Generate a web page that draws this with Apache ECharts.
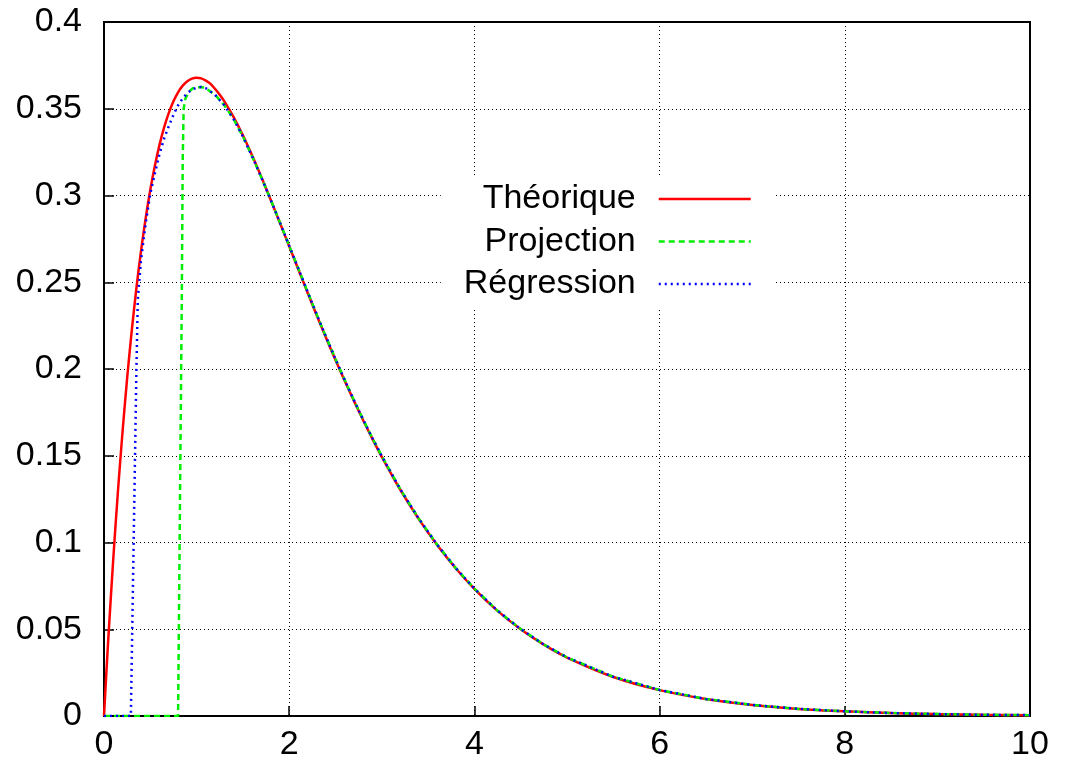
<!DOCTYPE html>
<html>
<head>
<meta charset="utf-8">
<script src="https://cdn.jsdelivr.net/npm/echarts@6/dist/echarts.min.js"></script>
<style>
html,body{margin:0;padding:0;background:#fff;}
#c{width:1065px;height:769px;}
</style>
</head>
<body>
<div id="c"></div>
<script>
// Series names
const seriesNames = ['Théorique', 'Projection', 'Régression'];

// Théorique
const thX = [0,0.025,0.05,0.1,0.15,0.2,0.25,0.3,0.35,0.4,0.45,0.5,0.55,0.6,0.65,0.7,0.75,0.8,0.85,0.9,0.95,1.0,1.05,1.1,1.15,1.2,1.25,1.3,1.4,1.5,1.6,1.7,1.8,1.9,2.0,2.1,2.2,2.3,2.4,2.5,2.6,2.7,2.8,2.9,3.0,3.2,3.4,3.6,3.8,4.0,4.25,4.5,4.75,5.0,5.5,6.0,6.5,7.0,7.5,8.0,8.5,9.0,9.5,10];
const thY = [0,0.0244,0.0476,0.0905,0.1291,0.1637,0.1947,0.2222,0.2466,0.2681,0.2869,0.3033,0.3173,0.3293,0.3394,0.3476,0.3543,0.3595,0.3633,0.3659,0.3674,0.3679,0.3675,0.3662,0.3643,0.3614,0.3581,0.3543,0.3452,0.3347,0.3230,0.3106,0.2975,0.2842,0.2707,0.2572,0.2438,0.2306,0.2177,0.2052,0.1931,0.1815,0.1703,0.1596,0.1494,0.1304,0.1135,0.0984,0.0850,0.0733,0.0606,0.0500,0.0411,0.0337,0.0225,0.0149,0.0098,0.0064,0.0041,0.0027,0.0017,0.0011,0.0007,0.0005];

// Projection
const projX = [0,0.80,0.81,0.82,0.83,0.84,0.85,0.86,0.88,0.92,0.96,1.0,1.05,1.1,1.2,1.3,1.4,1.5,1.6,1.7,1.8,1.9,2.0,2.1,2.2,2.3,2.4,2.5,2.6,2.7,2.8,2.9,3.0,3.2,3.4,3.6,3.8,4.0,4.25,4.5,4.75,5.0,5.5,6.0,6.5,7.0,7.5,8.0,8.5,9.0,9.5,10];
const projY = [0,0,0.06,0.12,0.18,0.24,0.32,0.350,0.356,0.360,0.3618,0.3624,0.3625,0.3618,0.358,0.352,0.344,0.334,0.3225,0.3103,0.2975,0.2844,0.2711,0.2577,0.2443,0.2311,0.2182,0.2057,0.1936,0.1819,0.1707,0.1600,0.1498,0.1307,0.1137,0.0986,0.0852,0.0734,0.0607,0.0501,0.0412,0.0338,0.0226,0.0150,0.0098,0.0064,0.0041,0.0027,0.0017,0.0011,0.0007,0.0005];

// Régression
const regX = [0,0.29,0.298,0.305,0.32,0.335,0.35,0.365,0.4,0.45,0.5,0.55,0.6,0.65,0.7,0.75,0.8,0.85,0.9,0.95,1.0,1.05,1.1,1.2,1.3,1.4,1.5,1.6,1.7,1.8,1.9,2.0,2.1,2.2,2.3,2.4,2.5,2.6,2.7,2.8,2.9,3.0,3.2,3.4,3.6,3.8,4.0,4.25,4.5,4.75,5.0,5.5,6.0,6.5,7.0,7.5,8.0,8.5,9.0,9.5,10];
const regY = [0,0,0,0.05,0.10,0.15,0.20,0.24,0.263,0.284,0.301,0.313,0.324,0.333,0.340,0.3465,0.352,0.356,0.359,0.361,0.3622,0.3625,0.3618,0.358,0.352,0.344,0.334,0.3225,0.3103,0.2975,0.2844,0.2711,0.2577,0.2443,0.2311,0.2182,0.2057,0.1936,0.1819,0.1707,0.1600,0.1498,0.1307,0.1137,0.0986,0.0852,0.0734,0.0607,0.0501,0.0412,0.0338,0.0226,0.0150,0.0098,0.0064,0.0041,0.0027,0.0017,0.0011,0.0007,0.0005];

const pairs = (xs, ys) => xs.map((x, i) => [x, ys[i]]);

const FONT = '"Liberation Sans", Arial, Helvetica, sans-serif';
const chart = echarts.init(document.getElementById('c'), null, {renderer: 'canvas'});
chart.setOption({
  backgroundColor: '#fff',
  animation: false,
  grid: {left: 104, right: 35, top: 22, bottom: 53, show: true, borderColor: '#000', borderWidth: 2, backgroundColor: 'transparent'},
  xAxis: {
    type: 'value', min: 0, max: 10, interval: 2,
    axisLine: {show: true, onZero: false, lineStyle: {color: '#000', width: 2}},
    axisTick: {show: true, inside: true, length: 10, lineStyle: {color: '#000', width: 1.5}},
    axisLabel: {color: '#000', fontSize: 34, fontFamily: FONT, margin: 12},
    splitLine: {show: true, lineStyle: {color: '#000', width: 1, type: [1, 3]}}
  },
  yAxis: {
    type: 'value', min: 0, max: 0.4, interval: 0.05,
    axisLine: {show: true, lineStyle: {color: '#000', width: 2}},
    axisTick: {show: true, inside: true, length: 10, lineStyle: {color: '#000', width: 1.5}},
    axisLabel: {color: '#000', fontSize: 34, fontFamily: FONT, margin: 22,
      formatter: v => String(Math.round(v * 100) / 100)},
    splitLine: {show: true, lineStyle: {color: '#000', width: 1, type: [1, 3]}}
  },
  legend: {
    orient: 'vertical', align: 'right', right: 292, top: 178,
    backgroundColor: '#fff', padding: [4, 21, 6, 23],
    itemWidth: 92, itemHeight: 14, itemGap: 8.5,
    itemStyle: {opacity: 0},
    lineStyle: {width: 2.5},
    textStyle: {color: '#000', fontSize: 34, fontFamily: FONT, lineHeight: 34, padding: [0, 18, 0, 0]},
    data: seriesNames
  },
  series: [
    {name: seriesNames[0], type: 'line', data: pairs(thX, thY), symbol: 'none', smooth: 0.3,
      lineStyle: {color: '#ff0000', width: 2.5}, itemStyle: {color: '#ff0000'}},
    {name: seriesNames[1], type: 'line', data: pairs(projX, projY), symbol: 'none', smooth: false,
      lineStyle: {color: '#00ee00', width: 2.5, type: [6, 4]}, itemStyle: {color: '#00ee00'}},
    {name: seriesNames[2], type: 'line', data: pairs(regX, regY), symbol: 'none', smooth: false,
      lineStyle: {color: '#0000ff', width: 2.5, type: [2, 4]}, itemStyle: {color: '#0000ff'}}
  ]
});
</script>
</body>
</html>
